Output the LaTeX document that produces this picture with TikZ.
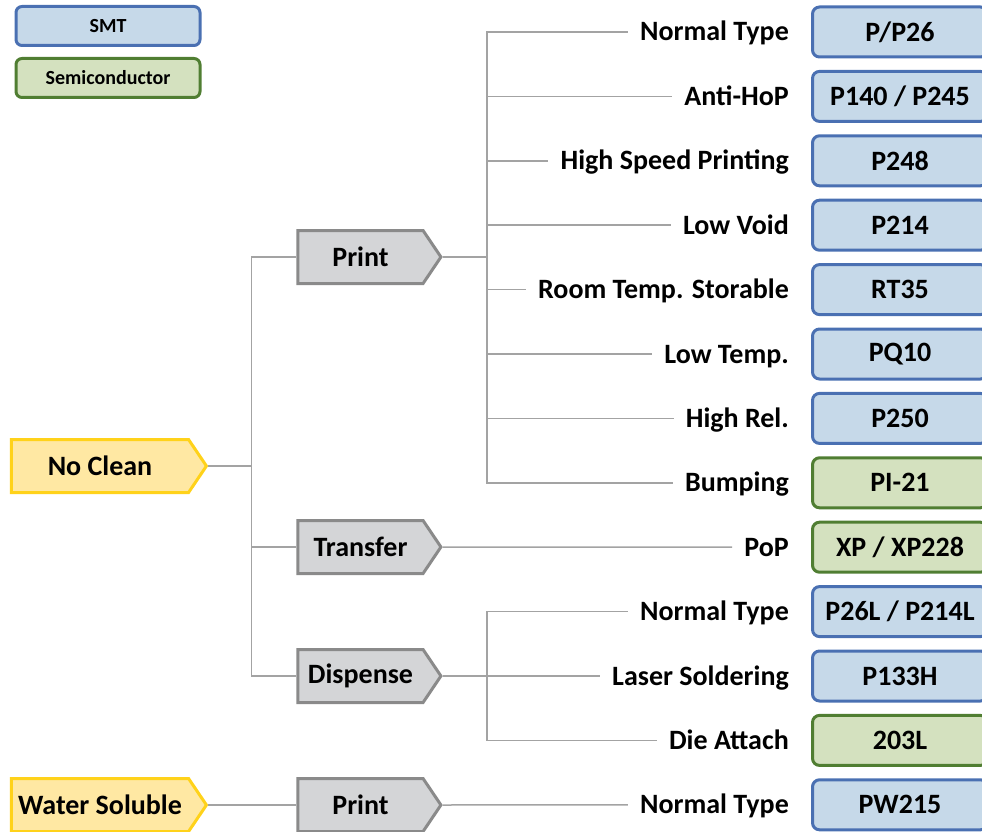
\documentclass[tikz,border=0pt]{standalone}
\usepackage{fontspec}
\setmainfont{Carlito}
\usetikzlibrary{shapes.symbols}

\definecolor{smtfill}{HTML}{C6D9E9}
\definecolor{smtdraw}{HTML}{4A70B2}
\definecolor{semifill}{HTML}{D4E1BF}
\definecolor{semidraw}{HTML}{507E32}
\definecolor{ncfill}{HTML}{FFE8A3}
\definecolor{ncdraw}{HTML}{FFD21A}
\definecolor{procfill}{HTML}{D4D5D7}
\definecolor{procdraw}{HTML}{8A8A8A}
\definecolor{linegray}{HTML}{A3A3A3}

\begin{document}
\begin{tikzpicture}[x=1pt,y=-1pt,
  font=\bfseries\fontsize{28}{32}\selectfont,
  conn/.style={draw=linegray, line width=1.5pt},
  cat/.style={shape=signal, signal to=east, signal pointer angle=112,
    minimum height=53pt, line width=3pt, inner sep=0pt},
  rootcat/.style={cat, fill=ncfill, draw=ncdraw, minimum width=195pt},
  proc/.style={cat, fill=procfill, draw=procdraw, minimum width=143pt},
  lbl/.style={anchor=east, inner xsep=12pt, inner ysep=0pt, text height=20pt, text depth=2pt},
  prod/.style={rounded corners=7pt, line width=3pt, minimum width=175pt,
    minimum height=50pt, anchor=west, inner sep=0pt},
  smt/.style={prod, fill=smtfill, draw=smtdraw},
  semi/.style={prod, fill=semifill, draw=semidraw},
  key/.style={rounded corners=6pt, line width=3pt, minimum width=184pt,
    minimum height=39pt, inner sep=0pt, font=\bfseries\fontsize{20}{24}\selectfont}
]
\useasboundingbox (0,0) rectangle (982,832);
\clip (0,0) rectangle (982,832);

% legend
\node[key, fill=smtfill, draw=smtdraw] (kSMT) at (108,26) {SMT};
\node[key, fill=semifill, draw=semidraw] (kSemi) at (108,78) {Semiconductor};

% flux families
\node[rootcat] (nc) at (100,466) {No Clean};
\node[rootcat] (ws) at (100,805) {Water Soluble};

% processes
\node[proc] (pr1) at (360.5,257) {Print};
\node[proc] (tr)  at (360.5,547) {Transfer};
\node[proc] (di)  at (360.5,676) {Dispense};
\node[proc] (pr2) at (360.5,805) {Print};

% applications
\node[lbl] (l0)  at (801,32)    {Normal Type};
\node[lbl] (l1)  at (801,96.4)  {Anti-HoP};
\node[lbl] (l2)  at (801,160.8) {High Speed Printing};
\node[lbl] (l3)  at (801,225.2) {Low Void};
\node[lbl] (l4)  at (801,289.6) {Room Temp. Storable};
\node[lbl] (l5)  at (801,354)   {Low Temp.};
\node[lbl] (l6)  at (801,418.4) {High Rel.};
\node[lbl] (l7)  at (801,482.8) {Bumping};
\node[lbl] (l8)  at (801,547.2) {PoP};
\node[lbl] (l9)  at (801,611.6) {Normal Type};
\node[lbl] (l10) at (801,676)   {Laser Soldering};
\node[lbl] (l11) at (801,740.4) {Die Attach};
\node[lbl] (l12) at (801,804.8) {Normal Type};

% products
\node[smt]  (b0)  at (811,32)    {P/P26};
\node[smt]  (b1)  at (811,96.4)  {P140 / P245};
\node[smt]  (b2)  at (811,160.8) {P248};
\node[smt]  (b3)  at (811,225.2) {P214};
\node[smt]  (b4)  at (811,289.6) {RT35};
\node[smt]  (b5)  at (811,354)   {PQ10};
\node[smt]  (b6)  at (811,418.4) {P250};
\node[semi] (b7)  at (811,482.8) {PI-21};
\node[semi] (b8)  at (811,547.2) {XP / XP228};
\node[smt]  (b9)  at (811,611.6) {P26L / P214L};
\node[smt]  (b10) at (811,676)   {P133H};
\node[semi] (b11) at (811,740.4) {203L};
\node[smt]  (b12) at (811,804.8) {PW215};

% connectors
\foreach \p in {pr1,tr,di}
  \draw[conn] (nc.east) -- ++(43,0) |- (\p.west);
\draw[conn] (ws.east) -- (pr2.west);
\foreach \l in {l0,l1,l2,l3,l4,l5,l6,l7}
  \draw[conn] (pr1.east) -- ++(44,0) |- (\l.west);
\draw[conn] (tr.east) -- (l8.west);
\foreach \l in {l9,l10,l11}
  \draw[conn] (di.east) -- ++(44,0) |- (\l.west);
\draw[conn] (pr2.east) -- (l12.west);
\end{tikzpicture}
\end{document}
